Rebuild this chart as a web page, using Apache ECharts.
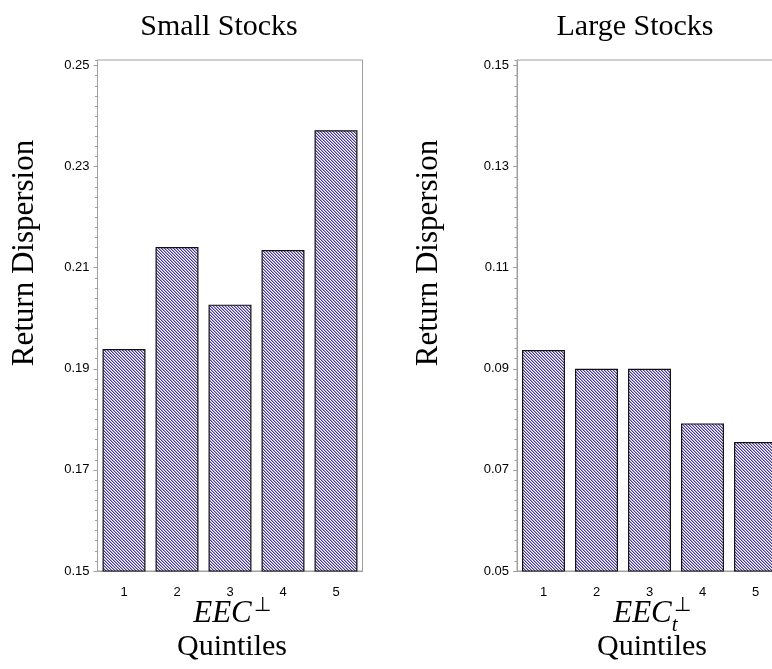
<!DOCTYPE html>
<html><head><meta charset="utf-8">
<script src="https://cdn.jsdelivr.net/npm/echarts@6/dist/echarts.min.js"></script>
<style>html,body{margin:0;padding:0;background:#fff;overflow:hidden;width:772px;height:669px}#c{width:800px;height:669px}</style>
</head><body><div id="c"></div>
<script>
const categories = ['1', '2', '3', '4', '5'];
const smallValues = [0.1939, 0.2141, 0.2027, 0.2135, 0.2372];
const largeValues = [0.0937, 0.0900, 0.0900, 0.0792, 0.0755];
const smallRange = [0.15, 0.2511];
const largeRange = [0.05, 0.1511];
const titles = ['Small Stocks', 'Large Stocks'];
const yName = 'Return Dispersion';
const xNameMain = 'EEC';
const xNameLine2 = 'Quintiles';

function hatch() {
  const c = document.createElement('canvas'); c.width = 3; c.height = 3;
  const g = c.getContext('2d');
  g.fillStyle = '#fff'; g.fillRect(0, 0, 3, 3);
  for (let i = 0; i < 3; i++) {
    g.fillStyle = '#47379a'; g.fillRect(i, i, 1, 1);
    g.fillStyle = '#aaa2d4'; g.fillRect((i + 1) % 3, i, 1, 1);
  }
  return c;
}
const pat = { image: hatch(), repeat: 'repeat' };
const GRAY = '#a0a0a0';
const SERIF = '"Liberation Serif", "Times New Roman", serif';

const grids = [
  { left: 97.5, top: 60, width: 265, height: 511 },
  { left: 517, top: 60, width: 265, height: 511 }
];
const ranges = [smallRange, largeRange];
const datas = [smallValues, largeValues];

const option = { animation: false, grid: [], xAxis: [], yAxis: [], series: [], graphic: [] };
grids.forEach((g, i) => {
  option.grid.push(Object.assign({ show: true, borderColor: GRAY, borderWidth: 1, backgroundColor: 'transparent' }, g));
  option.xAxis.push({
    type: 'category', gridIndex: i, data: categories, position: 'bottom',
    axisLine: { show: true, lineStyle: { color: GRAY, width: 1 } },
    axisTick: { show: false },
    axisLabel: { margin: 15, fontSize: 13, color: '#000', fontFamily: '"Liberation Sans", Arial, sans-serif' }
  });
  option.yAxis.push({
    type: 'value', gridIndex: i, position: 'left', min: ranges[i][0], max: ranges[i][1], interval: 0.02,
    axisLine: { show: true, lineStyle: { color: GRAY, width: 1 } },
    axisTick: { show: true, length: 4, lineStyle: { color: GRAY } },
    splitLine: { show: false },
    axisLabel: {
      margin: 8, fontSize: 13, color: '#000', fontFamily: '"Liberation Sans", Arial, sans-serif',
      showMaxLabel: false,
      formatter: v => { const k = Math.round(v / 0.01); return Math.abs(v / 0.01 - k) < 1e-6 ? v.toFixed(2) : ''; }
    }
  });
  option.yAxis.push({
    type: 'value', gridIndex: i, position: 'left', offset: 0, min: ranges[i][0], max: ranges[i][1], interval: 0.002,
    axisLine: { show: false },
    axisTick: { show: true, length: 2.5, lineStyle: { color: GRAY } },
    splitLine: { show: false },
    axisLabel: { show: false }
  });
  option.series.push({
    type: 'bar', xAxisIndex: i, yAxisIndex: i * 2, data: datas[i],
    barCategoryGap: '19%', silent: true,
    itemStyle: { color: pat, borderColor: '#111', borderWidth: 1.2 }
  });
});

const mc = document.createElement('canvas').getContext('2d');
function tw(text, font) { mc.font = font; return mc.measureText(text).width; }

const titleX = [219, 635];
const yLabelX = [25, 429];
const xNameX = [232, 652];
titles.forEach((t, i) => {
  option.graphic.push({ type: 'text', x: titleX[i], y: 27, style: { text: t, font: '30px ' + SERIF, fill: '#000', align: 'center', verticalAlign: 'middle' } });
  option.graphic.push({ type: 'text', x: yLabelX[i], y: 253, rotation: Math.PI / 2, style: { text: yName, font: '31px ' + SERIF, fill: '#000', align: 'center', verticalAlign: 'middle' } });
  option.graphic.push({ type: 'text', x: xNameX[i], y: 647, style: { text: xNameLine2, font: '30px ' + SERIF, fill: '#000', align: 'center', verticalAlign: 'middle' } });
  const mainFont = 'italic 31px ' + SERIF;
  const w = tw(xNameMain, mainFont);
  const supW = tw('\u22A5', '20px ' + SERIF);
  const x0 = xNameX[i] - (w + supW + 2) / 2;
  option.graphic.push({ type: 'text', x: x0, y: 614, style: { text: xNameMain, font: mainFont, fill: '#000', align: 'left', verticalAlign: 'middle' } });
  option.graphic.push({ type: 'text', x: x0 + w + 2, y: 606, style: { text: '\u22A5', font: '20px ' + SERIF, fill: '#000', align: 'left', verticalAlign: 'middle' } });
  if (i === 1) {
    option.graphic.push({ type: 'text', x: x0 + w, y: 625, style: { text: 't', font: 'italic 21px ' + SERIF, fill: '#000', align: 'left', verticalAlign: 'middle' } });
  }
});

const chart = echarts.init(document.getElementById('c'), null, { renderer: 'canvas' });
chart.setOption(option);
</script>
</body></html>
